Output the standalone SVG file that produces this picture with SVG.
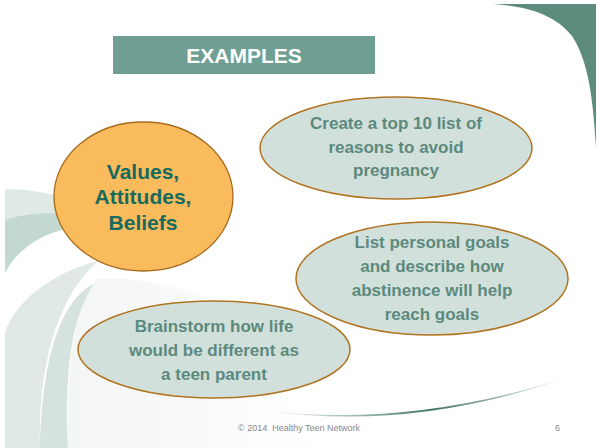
<svg xmlns="http://www.w3.org/2000/svg" width="597" height="448" viewBox="0 0 597 448">
<defs>
<linearGradient id="swoosh" x1="262" y1="0" x2="572" y2="0" gradientUnits="userSpaceOnUse">
<stop offset="0" stop-color="#5d8b7e" stop-opacity="0"/>
<stop offset="0.3" stop-color="#5d8b7e" stop-opacity="0.6"/>
<stop offset="0.55" stop-color="#3f7467" stop-opacity="1"/>
<stop offset="0.75" stop-color="#5d8b7e" stop-opacity="0.7"/>
<stop offset="1" stop-color="#5d8b7e" stop-opacity="0"/>
</linearGradient>
<linearGradient id="vlight" x1="0" y1="0" x2="1" y2="0">
<stop offset="0" stop-color="#f3f6f5"/>
<stop offset="1" stop-color="#ffffff"/>
</linearGradient>
</defs>
<style>
.t{font-family:"Liberation Sans",Arial,sans-serif;font-weight:bold;text-anchor:middle}
.ex{fill:#5b8a7d;font-size:17px}
.ov{fill:#d2e0dc;stroke:#b0731f;stroke-width:1.5}
.foot{font-family:"Liberation Sans",Arial,sans-serif;font-size:9px;fill:#8a8a8a}
</style>
<rect width="597" height="448" fill="#ffffff"/>
<g id="background">
<path d="M5,189 C25,189 45,192 70,199 L70,228 C38,234 15,252 5,273 Z" fill="#dfe9e6"/>
<path d="M5,220 C22,214 45,212 70,214 L70,228 C38,234 15,252 5,273 Z" fill="#c4d8d2"/>
<path d="M97,261 C55,272 15,300 5,333 L5,448 L40,448 C38,370 55,300 97,262 Z" fill="#e0e9e6"/>
<path d="M95,283 C60,300 42,360 40,448 L68,448 C64,370 72,315 95,283 Z" fill="#d5e2de"/>
<path d="M97,279 C140,276 190,290 240,308 C260,360 280,420 330,448 L68,448 C66,360 75,310 97,279 Z" fill="url(#vlight)"/>
<path d="M493,4 L596,4 L596,147 C593,100 589,62 572,36 C553,12 522,6 493,4 Z" fill="#5d8b7e"/>
<path d="M262,410 Q410,433 572,376 Q410,429 262,410 Z" fill="url(#swoosh)"/>
</g>
<g id="title">
<rect x="113" y="36" width="262" height="38" fill="#6f9f92"/>
<text class="t" x="244" y="63" font-size="21" fill="#ffffff">EXAMPLES</text>
</g>
<g id="connectors"></g>
<g id="values">
<ellipse cx="143.5" cy="196.5" rx="89.5" ry="74.5" fill="#f9bb5c" stroke="#a8691e" stroke-width="1.3"/>
<text class="t" font-size="21" fill="#176a5e"><tspan x="143" y="179">Values,</tspan><tspan x="143" y="204">Attitudes,</tspan><tspan x="143" y="230">Beliefs</tspan></text>
</g>
<g id="top10">
<ellipse class="ov" cx="396" cy="148" rx="136" ry="51"/>
<text class="t ex"><tspan x="396" y="129">Create a top 10 list of</tspan><tspan x="396" y="153">reasons to avoid</tspan><tspan x="396" y="176">pregnancy</tspan></text>
</g>
<g id="goals">
<ellipse class="ov" cx="432" cy="278.5" rx="136" ry="56.5"/>
<text class="t ex"><tspan x="432" y="248">List personal goals</tspan><tspan x="432" y="272">and describe how</tspan><tspan x="432" y="296">abstinence will help</tspan><tspan x="432" y="320">reach goals</tspan></text>
</g>
<g id="brainstorm">
<ellipse class="ov" cx="214" cy="349.5" rx="136" ry="48.5"/>
<text class="t ex"><tspan x="214" y="332">Brainstorm how life</tspan><tspan x="214" y="356">would be different as</tspan><tspan x="214" y="380">a teen parent</tspan></text>
</g>
<g id="footer">
<text class="foot" x="238" y="431" xml:space="preserve">© 2014  Healthy Teen Network</text>
<text class="foot" x="555" y="431">6</text>
</g>
</svg>
